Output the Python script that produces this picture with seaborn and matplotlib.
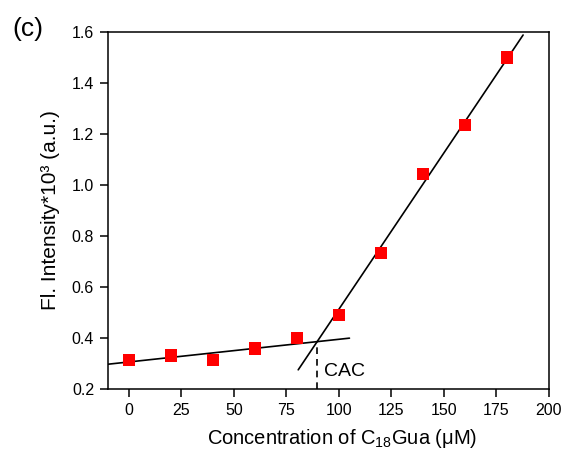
import numpy as np
import pandas as pd
import matplotlib
matplotlib.use("Agg")
import matplotlib.pyplot as plt
import seaborn as sns

# Fluorescence intensity vs. surfactant concentration
conc = [0, 20, 40, 60, 80, 100, 120, 140, 160, 180]
intensity = [0.314, 0.331, 0.314, 0.358, 0.401, 0.49, 0.733, 1.043, 1.235, 1.50]

# Linear fits: below and above the critical aggregation concentration
fit_slopes = [0.000889, 0.01226]
fit_intercepts = [0.306, -0.713]
fit_ranges = [(-10, 105), (80.6, 187.7)]

x_ticks = [0, 25, 50, 75, 100, 125, 150, 175, 200]
y_ticks = [0.2, 0.4, 0.6, 0.8, 1.0, 1.2, 1.4, 1.6]

sns.set_theme(style="ticks")
plt.rcParams["font.family"] = ["Liberation Sans", "DejaVu Sans"]
plt.rcParams["mathtext.fontset"] = "custom"
plt.rcParams["mathtext.rm"] = "Liberation Sans"
plt.rcParams["mathtext.it"] = "Liberation Sans:italic"
plt.rcParams["text.color"] = "black"
plt.rcParams["axes.labelcolor"] = "black"

fig = plt.figure(figsize=(5.63, 4.5), dpi=100)
ax = fig.add_axes([0.1918, 0.1356, 0.7832, 0.7933])

df = pd.DataFrame({"conc": conc, "intensity": intensity})

for m, b, (x0, x1) in zip(fit_slopes, fit_intercepts, fit_ranges):
    xs = np.array([x0, x1])
    line_df = pd.DataFrame({"x": xs, "y": m * xs + b})
    sns.lineplot(data=line_df, x="x", y="y", color="black", linewidth=1.2, ax=ax)

sns.scatterplot(data=df, x="conc", y="intensity", marker="s", s=80,
                color="#ff0000", edgecolor="none", ax=ax, zorder=3)

# Intersection of the two fits marks the CAC
cac = (fit_intercepts[1] - fit_intercepts[0]) / (fit_slopes[0] - fit_slopes[1])
y_cac = fit_slopes[0] * cac + fit_intercepts[0]
ax.plot([cac, cac], [0.2, y_cac], color="black", linewidth=1.2,
        linestyle=(0, (4, 3)))
ax.text(cac + 3.5, 0.267, "CAC", fontsize=14, va="center", ha="left")

ax.set_xlim(-10, 200)
ax.set_ylim(0.2, 1.6)
ax.set_xticks(x_ticks)
ax.set_yticks(y_ticks)
ax.set_yticklabels([f"{v:.1f}" for v in y_ticks])
ax.tick_params(axis="both", direction="out", length=6, width=1.1,
               labelsize=11.5, colors="black", pad=4)
for s in ax.spines.values():
    s.set_visible(True)
    s.set_linewidth(1.1)
    s.set_color("black")

ax.set_xlabel("Concentration of C$_{18}$Gua (\u03bcM)", fontsize=14.5)
ax.set_ylabel("Fl. Intensity*10\u00b3 (a.u.)", fontsize=15)
ax.xaxis.set_label_coords(0.53, -0.106)
ax.yaxis.set_label_coords(-0.108, 0.5)

fig.text(0.022, 0.936, "(c)", fontsize=19, ha="left", va="center")

fig.savefig("out.png", dpi=100)
